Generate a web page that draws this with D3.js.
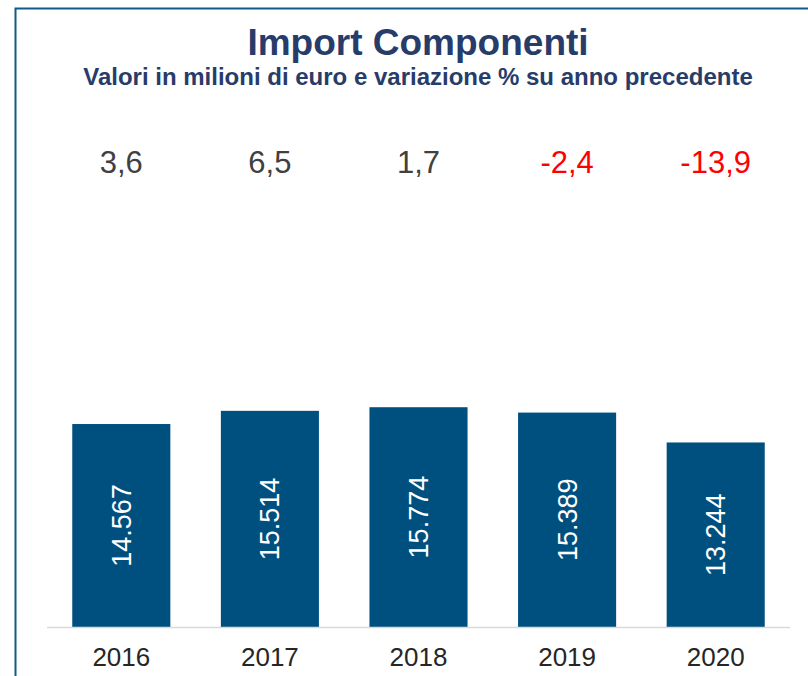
<!DOCTYPE html>
<html>
<head>
<meta charset="utf-8">
<script src="https://cdn.jsdelivr.net/npm/d3@7"></script>
<style>
  html, body { margin: 0; padding: 0; background: #fff; }
  svg { display: block; font-family: "Liberation Sans", Arial, sans-serif; }
</style>
</head>
<body>
<div id="chart"></div>
<script>
// dati del grafico
const anni = ["2016", "2017", "2018", "2019", "2020"];
const valori = [14567, 15514, 15774, 15389, 13244];
const variazioni = [3.6, 6.5, 1.7, -2.4, -13.9];

const W = 808, H = 676;
const PLOT = { left: 47, right: 790, bottom: 627 };

const svg = d3.select("#chart").append("svg")
    .attr("width", W)
    .attr("height", H);

// cornice
svg.append("rect")
    .attr("x", 15.5).attr("y", 8.5)
    .attr("width", W + 10).attr("height", H + 10)
    .attr("fill", "none")
    .attr("stroke", "#0f5a8a")
    .attr("stroke-width", 2);

// titoli
svg.append("text")
    .attr("x", 418).attr("y", 55)
    .attr("text-anchor", "middle")
    .attr("font-size", 37).attr("font-weight", "bold")
    .attr("fill", "#283c6a")
    .text("Import Componenti");

svg.append("text")
    .attr("x", 418).attr("y", 85)
    .attr("text-anchor", "middle")
    .attr("font-size", 24).attr("font-weight", "bold")
    .attr("fill", "#283c6a")
    .text("Valori in milioni di euro e variazione % su anno precedente");

const x = d3.scaleBand()
    .domain(anni)
    .range([PLOT.left, PLOT.right])
    .paddingInner(0.34)
    .paddingOuter(0.17);

const y = d3.scaleLinear()
    .domain([0, 30000])
    .range([PLOT.bottom, PLOT.bottom - 418]);

const fmt = d3.formatLocale({ decimal: ",", thousands: ".", grouping: [3], currency: ["€", ""], minus: "-" });
const fmtVal = fmt.format(",d");
const fmtPct = fmt.format(".1f");

// barre
svg.append("g").selectAll("rect")
    .data(valori)
    .join("rect")
    .attr("x", (d, i) => x(anni[i]))
    .attr("y", d => y(d))
    .attr("width", x.bandwidth())
    .attr("height", d => y(0) - y(d))
    .attr("fill", "#00507f");

// etichette valori nelle barre
svg.append("g").selectAll("text")
    .data(valori)
    .join("text")
    .attr("transform", (d, i) => {
        const cx = x(anni[i]) + x.bandwidth() / 2;
        const cy = (y(d) + y(0)) / 2;
        return `translate(${cx},${cy}) rotate(-90)`;
    })
    .attr("text-anchor", "middle")
    .attr("dy", "0.35em")
    .attr("font-size", 27)
    .attr("fill", "#fff")
    .text(d => fmtVal(d));

// linea di base
svg.append("line")
    .attr("x1", PLOT.left).attr("x2", PLOT.right)
    .attr("y1", PLOT.bottom + 0.5).attr("y2", PLOT.bottom + 0.5)
    .attr("stroke", "#d9d9d9")
    .attr("stroke-width", 1.5);

// asse x
const xAxis = svg.append("g")
    .attr("transform", `translate(0,${PLOT.bottom})`)
    .call(d3.axisBottom(x).tickSize(0).tickPadding(21));
xAxis.select(".domain").remove();
xAxis.selectAll("text")
    .attr("font-size", 26)
    .attr("font-family", "Liberation Sans, Arial, sans-serif")
    .attr("fill", "#262626");

// variazioni %
svg.append("g").selectAll("text")
    .data(variazioni)
    .join("text")
    .attr("x", (d, i) => x(anni[i]) + x.bandwidth() / 2)
    .attr("y", 173)
    .attr("text-anchor", "middle")
    .attr("font-size", 31)
    .attr("fill", d => d < 0 ? "#ff0000" : "#404040")
    .text(d => fmtPct(d));
</script>
</body>
</html>
